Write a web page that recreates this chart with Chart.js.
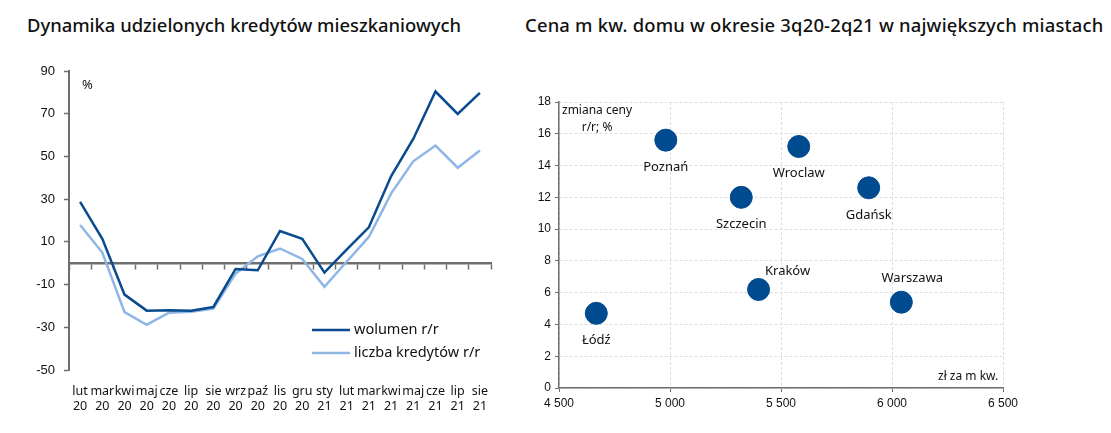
<!DOCTYPE html>
<html>
<head>
    <meta charset="utf-8">
    <title>Kredyty i ceny</title>
    <script src="https://cdn.jsdelivr.net/npm/chart.js"></script>
    <style>
        body { margin: 0; background: #fff; width: 1111px; height: 433px; position: relative; overflow: hidden; }
        .title { position: absolute; top: 12px; font-family: "Noto Sans", sans-serif; font-weight: 500; font-size: 18.4px; color: #111; white-space: nowrap; }
        .note { position: absolute; font-family: "Noto Sans", sans-serif; font-size: 12px; color: #111; white-space: nowrap; line-height: 17px; }
        .box { position: absolute; top: 0; height: 433px; }
    </style>
</head>
<body>
    <div class="title" style="left: 27px;">Dynamika udzielonych kredytów mieszkaniowych</div>
    <div class="title" style="left: 525px; letter-spacing: 0.2px;">Cena m kw. domu w okresie 3q20-2q21 w największych miastach</div>

    <div class="box" style="left: 0; width: 510px;"><canvas id="loans"></canvas></div>
    <div class="box" style="left: 510px; width: 601px;"><canvas id="prices"></canvas></div>

    <div class="note" style="left: 82px; top: 76px; font-size: 13px;">%</div>
    <div class="note" style="left: 562px; top: 101px; text-align: center;">zmiana ceny<br>r/r; %</div>
    <div class="note" style="left: 938px; top: 367px;">zł za m kw.</div>

    <script>
        // dane - lewy wykres
        const months = [['lut','20'],['mar','20'],['kwi','20'],['maj','20'],['cze','20'],['lip','20'],['sie','20'],
                        ['wrz','20'],['paź','20'],['lis','20'],['gru','20'],['sty','21'],['lut','21'],['mar','21'],
                        ['kwi','21'],['maj','21'],['cze','21'],['lip','21'],['sie','21']]
        const wolumen = [28.7, 11.4, -14.7, -22.2, -22.0, -22.3, -20.5, -2.7, -3.3, 15.1, 11.4, -4.4, 6.4, 16.8, 40.7, 58.2, 80.4, 69.9, 79.8]
        const liczba = [17.9, 5.0, -22.9, -28.8, -23.2, -22.7, -21.2, -4.9, 3.2, 6.9, 2.0, -11.0, 0.7, 12.3, 32.6, 47.7, 55.1, 44.7, 52.8]
        const yTicks = [-50, -30, -10, 10, 30, 50, 70, 90]

        // dane - prawy wykres
        const cities = ['Poznań', 'Wroclaw', 'Szczecin', 'Gdańsk', 'Kraków', 'Łódź', 'Warszawa']
        const pricePerM2 = [4981, 5580, 5321, 5895, 5399, 4668, 6042]
        const priceChange = [15.6, 15.2, 12.0, 12.6, 6.2, 4.7, 5.4]

        const DARK = '#0a4a8e'
        const LIGHT = '#8fb6e4'
        const AXIS = '#6e6e6e'
        const tickFont = { family: '"Liberation Sans", Arial, sans-serif', size: 13 }

        // legenda wewnątrz wykresu (prawy dolny róg)
        const insideLegend = {
            id: 'insideLegend',
            afterDraw(chart) {
                const ctx = chart.ctx
                const x0 = 312, y0 = 330
                ctx.save()
                ctx.font = '14.5px "Noto Sans", sans-serif'
                ctx.textBaseline = 'middle'
                chart.data.datasets.forEach((ds, i) => {
                    const y = y0 + i * 23
                    ctx.strokeStyle = ds.borderColor
                    ctx.lineWidth = 2.5
                    ctx.beginPath()
                    ctx.moveTo(x0, y)
                    ctx.lineTo(x0 + 38, y)
                    ctx.stroke()
                    ctx.fillStyle = '#111'
                    ctx.fillText(ds.label, x0 + 42, y)
                })
                ctx.restore()
            }
        }

        new Chart(document.getElementById('loans'), {
            type: 'line',
            data: {
                labels: months,
                datasets: [{
                    label: 'wolumen r/r',
                    data: wolumen,
                    borderColor: DARK,
                    borderWidth: 2.5,
                    pointRadius: 0,
                    tension: 0
                }, {
                    label: 'liczba kredytów r/r',
                    data: liczba,
                    borderColor: LIGHT,
                    borderWidth: 2.5,
                    pointRadius: 0,
                    tension: 0
                }]
            },
            options: {
                responsive: true,
                maintainAspectRatio: false,
                animation: false,
                events: [],
                layout: { padding: { top: 71, right: 19, bottom: 13, left: 0 } },
                plugins: { legend: { display: false }, tooltip: { enabled: false } },
                scales: {
                    x: {
                        type: 'category',
                        position: { y: 0 }, // oś przecina zero
                        offset: true,
                        grid: { display: true, drawOnChartArea: false, drawTicks: true, tickLength: 5, color: AXIS, tickWidth: 1.5, offset: true },
                        border: { display: true, color: AXIS, width: 2.5 },
                        ticks: { display: false }
                    },
                    x2: {
                        type: 'category',
                        position: 'bottom',
                        offset: true,
                        labels: months,
                        grid: { display: false },
                        border: { display: false },
                        ticks: { color: '#111', font: { family: '"Noto Sans", sans-serif', size: 12.5 }, padding: 6, maxRotation: 0, autoSkip: false },
                        afterFit: s => { s.height = 50 }
                    },
                    y: {
                        min: -50,
                        max: 90,
                        afterBuildTicks: s => { s.ticks = yTicks.map(v => ({ value: v })) },
                        grid: { drawOnChartArea: false, tickLength: 5, color: AXIS, tickWidth: 1.5 },
                        border: { color: AXIS, width: 2 },
                        ticks: { color: '#111', font: tickFont, padding: 9 },
                        afterFit: s => { s.width = 69 }
                    }
                }
            },
            plugins: [insideLegend]
        });

        // podpisy miast przy punktach
        const cityLabels = {
            id: 'cityLabels',
            afterDatasetsDraw(chart) {
                const ctx = chart.ctx
                const meta = chart.getDatasetMeta(0)
                ctx.save()
                ctx.font = '13px "Noto Sans", sans-serif'
                ctx.fillStyle = '#111'
                ctx.textAlign = 'center'
                ctx.textBaseline = 'middle'
                meta.data.forEach((pt, i) => {
                    let dx = 0, dy = 27
                    if (cities[i] === 'Kraków') { dx = 29; dy = -18 }
                    if (cities[i] === 'Warszawa') { dx = 11; dy = -24 }
                    ctx.fillText(cities[i], pt.x + dx, pt.y + dy)
                })
                ctx.restore()
            }
        }

        new Chart(document.getElementById('prices'), {
            type: 'scatter',
            data: {
                datasets: [{
                    label: 'miasta',
                    data: pricePerM2.map((p, i) => ({ x: p, y: priceChange[i] })),
                    backgroundColor: '#004a8f',
                    borderColor: '#004a8f',
                    pointRadius: 11,
                    pointHoverRadius: 11
                }]
            },
            options: {
                responsive: true,
                maintainAspectRatio: false,
                animation: false,
                events: [],
                layout: { padding: { top: 102, right: 108, bottom: 0, left: 0 } },
                plugins: { legend: { display: false }, tooltip: { enabled: false } },
                scales: {
                    x: {
                        type: 'linear',
                        min: 4500,
                        max: 6500,
                        ticks: {
                            stepSize: 500,
                            color: '#111',
                            font: { family: '"Liberation Sans", Arial, sans-serif', size: 12 },
                            padding: 4,
                            callback: v => String(v).replace(/\B(?=(\d{3})+(?!\d))/g, ' ')
                        },
                        grid: { color: '#dedede', tickColor: AXIS, tickLength: 4 },
                        border: { color: AXIS, width: 1.5, dash: [3, 2] },
                        afterFit: s => { s.height = 45 }
                    },
                    y: {
                        min: 0,
                        max: 18,
                        ticks: { stepSize: 2, color: '#111', font: { family: '"Liberation Sans", Arial, sans-serif', size: 12 }, padding: 4 },
                        grid: { color: '#dedede', tickColor: AXIS, tickLength: 4 },
                        border: { color: AXIS, width: 1.5, dash: [3, 2] },
                        afterFit: s => { s.width = 49 }
                    }
                }
            },
            plugins: [cityLabels]
        });
    </script>
</body>
</html>
